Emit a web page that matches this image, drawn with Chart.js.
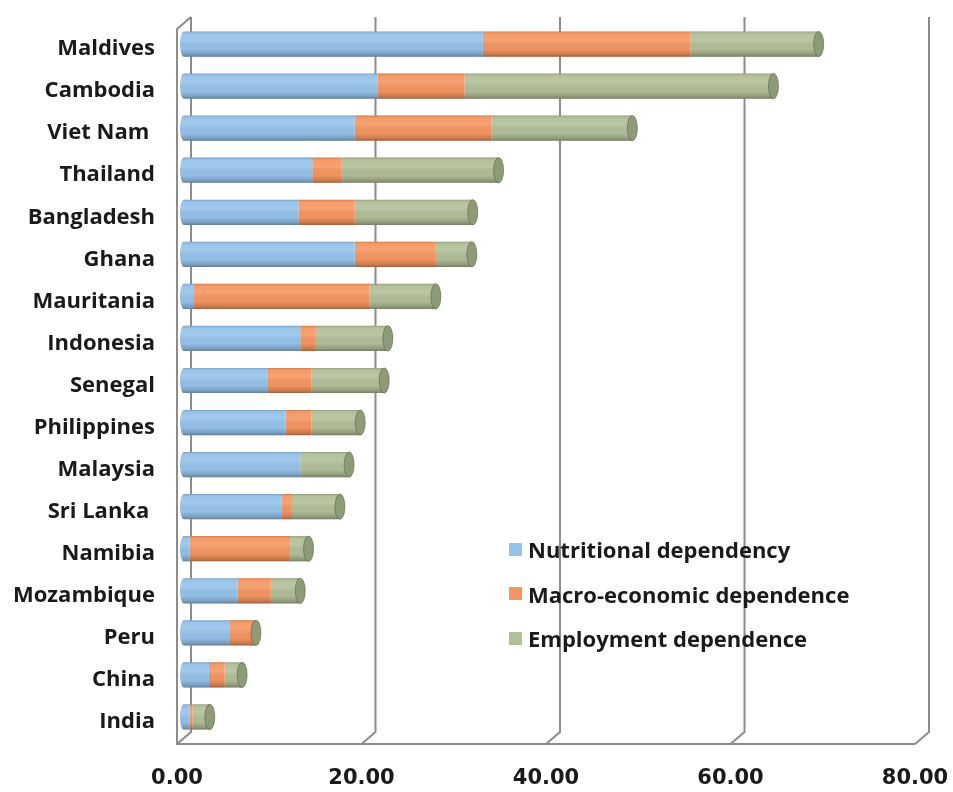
<!DOCTYPE html>
<html lang="en">
<head>
  <meta charset="UTF-8">
  <title>Dependence on fisheries by country</title>
  <style>
    body {
      margin: 0;
      background: #ffffff;
      font-family: "Open Sans", sans-serif;
    }
    #wrap {
      position: relative;
      width: 953px;
      height: 792px;
    }
    #legend {
      position: absolute;
      left: 509px;
      top: 527px;
    }
    .item {
      display: flex;
      align-items: center;
      height: 44.5px;
      font-size: 22px;
      font-weight: bold;
      color: #1a1a1a;
    }
    .item span {
      display: inline-block;
      width: 13px;
      height: 13px;
      margin-right: 6px;
    }
  </style>
</head>
<body>

<div id="wrap">
  <canvas id="chartCanvas" width="953" height="792"></canvas>
  <div id="legend"></div>
</div>

<script src="https://cdn.jsdelivr.net/npm/chart.js"></script>

<script>
  const countries = ['Maldives', 'Cambodia', 'Viet Nam ', 'Thailand', 'Bangladesh', 'Ghana',
    'Mauritania', 'Indonesia', 'Senegal', 'Philippines', 'Malaysia', 'Sri Lanka ',
    'Namibia', 'Mozambique', 'Peru', 'China', 'India'];

  const nutritional = [32.4, 21.0, 18.5, 13.9, 12.4, 18.5, 1.0, 12.6, 9.1, 11.0, 12.6, 10.6, 0.6, 5.8, 4.9, 2.7, 0.6];
  const macroEconomic = [22.5, 9.4, 14.8, 3.2, 6.1, 8.8, 19.1, 1.6, 4.7, 2.8, 0, 1.1, 10.9, 3.6, 2.9, 1.7, 0.3];
  const employment = [13.9, 33.5, 15.3, 17.0, 12.8, 3.9, 7.2, 7.9, 7.9, 5.3, 5.3, 5.2, 2.0, 3.2, 0, 1.9, 1.9];

  const seriesNames = ['Nutritional dependency', 'Macro-economic dependence', 'Employment dependence'];
  const xTicks = [0, 20, 40, 60, 80];

  const colors = ['#95c2ea', '#f59660', '#b2bf98'];
  const capColor = '#8e9a78';
  const frameColor = '#8c8c8c';

  // half of the fake depth of the 3D box
  const DX = 7, DY = 6;

  // back wall, floor and the slanted gridline feet
  const frame3d = {
    id: 'frame3d',
    beforeDatasetsDraw(chart) {
      const ctx = chart.ctx;
      const xs = chart.scales.x;
      const { top, bottom } = chart.chartArea;
      ctx.save();
      ctx.strokeStyle = frameColor;
      ctx.lineWidth = 2;
      ctx.beginPath();
      xTicks.forEach(v => {
        const x = xs.getPixelForValue(v);
        ctx.moveTo(x + DX, top - DY);
        ctx.lineTo(x + DX, bottom - DY);
        ctx.lineTo(x - DX, bottom + DY);
      });
      // left wall front edge
      const x0 = xs.getPixelForValue(0);
      ctx.moveTo(x0 + DX, top - DY);
      ctx.lineTo(x0 - DX, top + DY);
      ctx.lineTo(x0 - DX, bottom + DY);
      // floor front edge
      ctx.lineTo(xs.getPixelForValue(80) - DX, bottom + DY);
      ctx.stroke();
      ctx.restore();
    }
  };

  // cylinder shading, rounded start and end caps
  const cylinders = {
    id: 'cylinders',
    afterDatasetsDraw(chart) {
      const ctx = chart.ctx;
      const first = chart.getDatasetMeta(0).data;
      const last = chart.getDatasetMeta(chart.data.datasets.length - 1).data;
      ctx.save();
      first.forEach((bar, i) => {
        const h = bar.height;
        const y0 = bar.y - h / 2;
        const xs = bar.base;
        const xe = last[i].x;
        const rx = 5;

        // rounded start
        ctx.fillStyle = colors[0];
        ctx.beginPath();
        ctx.ellipse(xs, bar.y, rx - 1, h / 2, 0, Math.PI / 2, Math.PI * 1.5);
        ctx.fill();

        const g = ctx.createLinearGradient(0, y0, 0, y0 + h);
        g.addColorStop(0, 'rgba(0,0,0,0.18)');
        g.addColorStop(0.12, 'rgba(255,255,255,0.05)');
        g.addColorStop(0.35, 'rgba(255,255,255,0.12)');
        g.addColorStop(0.7, 'rgba(0,0,0,0.02)');
        g.addColorStop(0.9, 'rgba(0,0,0,0.18)');
        g.addColorStop(1, 'rgba(0,0,0,0.35)');
        ctx.fillStyle = g;
        ctx.beginPath();
        ctx.ellipse(xs, bar.y, rx - 1, h / 2, 0, Math.PI / 2, Math.PI * 1.5);
        ctx.lineTo(xe, y0);
        ctx.lineTo(xe, y0 + h);
        ctx.closePath();
        ctx.fill();

        // end cap
        ctx.beginPath();
        ctx.ellipse(xe, bar.y, rx, h / 2, 0, 0, Math.PI * 2);
        ctx.fillStyle = capColor;
        ctx.fill();
        ctx.strokeStyle = 'rgba(90,100,75,0.6)';
        ctx.lineWidth = 1;
        ctx.stroke();
      });
      ctx.restore();
    }
  };

  const labelFont = { family: '"Open Sans", sans-serif', size: 22, weight: 'bold' };
  const tickFont = { family: '"DejaVu Sans", sans-serif', size: 21, weight: 'bold' };

  const datasets = seriesNames.map((name, i) => ({
    label: name,
    data: [nutritional, macroEconomic, employment][i],
    backgroundColor: colors[i],
    borderWidth: 0,
    barPercentage: 0.6,
    categoryPercentage: 1
  }));

  const chart = new Chart(document.getElementById('chartCanvas'), {
    type: 'bar',
    data: { labels: countries, datasets: datasets },
    options: {
      indexAxis: 'y',
      responsive: false,
      animation: false,
      layout: { padding: { top: 23, right: 31, bottom: 0, left: 0 } },
      plugins: {
        legend: { display: false },
        tooltip: { enabled: false }
      },
      scales: {
        x: {
          stacked: true,
          min: 0,
          max: 80,
          grid: { display: false, drawTicks: false },
          border: { display: false },
          afterFit(scale) {
            scale.height = 54;
            scale.paddingLeft = 0;
            scale.paddingRight = 0;
          },
          ticks: {
            stepSize: 20,
            padding: 28,
            labelOffset: -DX,
            color: '#1a1a1a',
            font: tickFont,
            callback: v => v.toFixed(2)
          }
        },
        y: {
          stacked: true,
          grid: { display: false, drawTicks: false },
          border: { display: false },
          afterFit(scale) {
            scale.width = 184;
            scale.paddingTop = 0;
            scale.paddingBottom = 0;
          },
          ticks: {
            padding: 29,
            labelOffset: 5,
            color: '#1a1a1a',
            font: labelFont
          }
        }
      }
    },
    plugins: [frame3d, cylinders]
  });

  // legend sits inside the plot, over the gridlines
  const legend = document.getElementById('legend');
  chart.data.datasets.forEach(ds => {
    const row = document.createElement('div');
    row.className = 'item';
    const box = document.createElement('span');
    box.style.background = ds.backgroundColor;
    row.appendChild(box);
    row.appendChild(document.createTextNode(ds.label));
    legend.appendChild(row);
  });
</script>

</body>
</html>
